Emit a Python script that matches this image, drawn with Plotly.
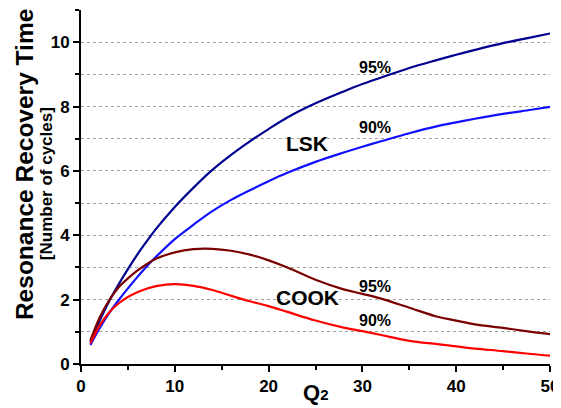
import plotly.graph_objects as go

q2 = [1, 2, 3, 4, 5, 6, 7, 8, 10, 12, 14, 16, 18, 20, 22, 25, 28, 30, 32, 35, 38, 40, 42, 45, 48, 50]
lsk_95 = [0.69, 1.35, 1.95, 2.47, 2.95, 3.4, 3.81, 4.2, 4.88, 5.48, 6.03, 6.5, 6.92, 7.3, 7.66, 8.1, 8.47, 8.7, 8.9, 9.2, 9.45, 9.61, 9.76, 9.97, 10.15, 10.27]
lsk_90 = [0.59, 1.12, 1.58, 1.98, 2.35, 2.7, 3.03, 3.33, 3.88, 4.33, 4.75, 5.1, 5.4, 5.68, 5.94, 6.28, 6.57, 6.75, 6.92, 7.17, 7.39, 7.51, 7.62, 7.77, 7.9, 7.99]
cook_95 = [0.73, 1.45, 1.98, 2.38, 2.66, 2.9, 3.1, 3.27, 3.47, 3.57, 3.58, 3.52, 3.4, 3.22, 3.0, 2.62, 2.32, 2.18, 2.03, 1.75, 1.47, 1.35, 1.23, 1.12, 1.0, 0.93]
cook_90 = [0.64, 1.2, 1.6, 1.88, 2.08, 2.23, 2.34, 2.42, 2.48, 2.43, 2.3, 2.12, 1.95, 1.8, 1.62, 1.35, 1.13, 1.02, 0.9, 0.72, 0.62, 0.55, 0.48, 0.4, 0.31, 0.26]

FONT = "Liberation Sans, Arial, sans-serif"

fig = go.Figure()
series = [
    (lsk_95, "#000090"),
    (lsk_90, "#1010FF"),
    (cook_95, "#7A0000"),
    (cook_90, "#FF0000"),
]
for ys, col in series:
    fig.add_trace(go.Scatter(x=q2, y=ys, mode="lines",
                             line=dict(color=col, width=2.2, shape="spline", smoothing=1.0),
                             showlegend=False, hoverinfo="skip"))

labels = [
    (31.3, 9.2, "95%", 16),
    (31.3, 7.36, "90%", 16),
    (24.1, 6.86, "LSK", 21),
    (24.1, 2.08, "COOK", 21),
    (31.3, 2.42, "95%", 16),
    (31.3, 1.34, "90%", 16),
]
for x, y, t, s in labels:
    fig.add_annotation(x=x, y=y, text=t, showarrow=False,
                       font=dict(family=FONT, size=s, color="black", weight="bold"))

fig.add_annotation(x=-0.1215, y=0.562, xref="paper", yref="paper", text="Resonance Recovery Time",
                   textangle=-90, showarrow=False, xanchor="center", yanchor="middle",
                   font=dict(family=FONT, size=24.5, color="black", weight="bold"))
fig.add_annotation(x=-0.0746, y=0.508, xref="paper", yref="paper", text="[Number of cycles]",
                   textangle=-90, showarrow=False, xanchor="center", yanchor="middle",
                   font=dict(family=FONT, size=17, color="black", weight="bold"))
fig.add_annotation(x=0.5, y=-0.08, xref="paper", yref="paper",
                   text="Q<span style='font-size:15px'>2</span>",
                   showarrow=False, xanchor="center", yanchor="middle",
                   font=dict(family=FONT, size=22, color="black", weight="bold"))

# page body has an 8px offset; figure sized so plot area lands where the reference has it
fig.update_layout(
    width=553, height=400,
    margin=dict(l=73, r=11, t=2, b=44),
    plot_bgcolor="white", paper_bgcolor="white",
    xaxis=dict(range=[0, 50], dtick=10, tick0=0, showgrid=False, zeroline=False,
               showline=True, linecolor="black", linewidth=2,
               ticks="outside", ticklen=6, tickwidth=2, tickcolor="black",
               tickfont=dict(family=FONT, size=17, color="black", weight="bold"),
               minor=dict(dtick=5, ticks="outside", ticklen=4, tickwidth=2, tickcolor="black")),
    yaxis=dict(range=[0, 11], dtick=2, tick0=0, zeroline=False,
               showgrid=True, gridcolor="#a0a0a0", griddash="dot", gridwidth=1,
               showline=True, linecolor="black", linewidth=2,
               ticks="outside", ticklen=6, tickwidth=2, tickcolor="black",
               tickfont=dict(family=FONT, size=17, color="black", weight="bold"),
               minor=dict(dtick=1, ticks="outside", ticklen=4, tickwidth=2, tickcolor="black",
                          showgrid=True, gridcolor="#a0a0a0", griddash="dot", gridwidth=1)),
)

fig.write_html("out.html")
